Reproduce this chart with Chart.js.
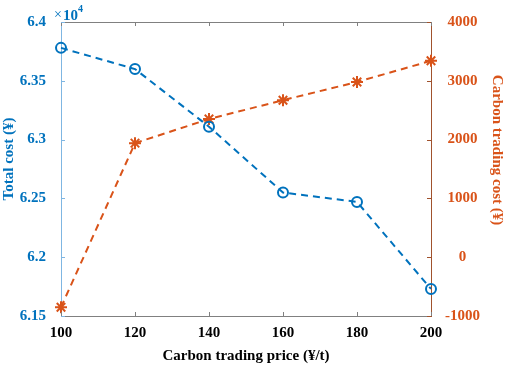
<!DOCTYPE html>
<html>
<head>
<meta charset="utf-8">
<script src="https://cdn.jsdelivr.net/npm/chart.js@4"></script>
<style>
  html, body { margin: 0; padding: 0; background: #fff; }
  #wrap { width: 505px; height: 371px; }
</style>
</head>
<body>
<div id="wrap"><canvas id="grafico"></canvas></div>
<script>
const precos = [100, 120, 140, 160, 180, 200];
const custoTotal = [6.378, 6.360, 6.311, 6.255, 6.247, 6.173]; // x 10^4
const custoCarbono = [-850, 1940, 2350, 2670, 2980, 3340];

const AZUL = "#0072BD";
const LARANJA = "#D95319";
const FONTE = "'Liberation Serif', 'Times New Roman', serif";

function pontos(valores) {
  return precos.map((p, i) => ({ x: p, y: valores[i] }));
}

const decoracao = {
  id: "decoracao",
  afterDraw(chart) {
    const ctx = chart.ctx;
    const a = chart.chartArea;
    const sx = chart.scales.x, sl = chart.scales.y, sr = chart.scales.y2;
    ctx.save();
    ctx.lineWidth = 1;

    // linha de cima
    ctx.strokeStyle = "#808080";
    ctx.beginPath();
    ctx.moveTo(a.left, a.top + 0.5);
    ctx.lineTo(a.right, a.top + 0.5);
    ctx.stroke();

    // ticks para dentro
    sx.ticks.forEach(t => {
      const px = Math.round(sx.getPixelForValue(t.value)) + 0.5;
      ctx.beginPath();
      ctx.moveTo(px, a.bottom); ctx.lineTo(px, a.bottom - 4);
      ctx.moveTo(px, a.top); ctx.lineTo(px, a.top + 4);
      ctx.stroke();
    });
    ctx.strokeStyle = "#7fb6e2";
    sl.ticks.forEach(t => {
      const py = Math.round(sl.getPixelForValue(t.value)) + 0.5;
      ctx.beginPath();
      ctx.moveTo(a.left, py); ctx.lineTo(a.left + 4, py);
      ctx.stroke();
    });
    ctx.strokeStyle = "#a0522d";
    sr.ticks.forEach(t => {
      const py = Math.round(sr.getPixelForValue(t.value)) + 0.5;
      ctx.beginPath();
      ctx.moveTo(a.right, py); ctx.lineTo(a.right - 4, py);
      ctx.stroke();
    });

    // titulos
    ctx.font = "bold 15px " + FONTE;
    ctx.textAlign = "center";
    ctx.textBaseline = "middle";
    ctx.fillStyle = "#000";
    ctx.fillText("Carbon trading price (¥/t)", (a.left + a.right) / 2, 356);

    ctx.save();
    ctx.translate(9, 159);
    ctx.rotate(-Math.PI / 2);
    ctx.fillStyle = AZUL;
    ctx.fillText("Total cost (¥)", 0, 0);
    ctx.restore();

    ctx.save();
    ctx.translate(497, 150);
    ctx.rotate(Math.PI / 2);
    ctx.fillStyle = LARANJA;
    ctx.fillText("Carbon trading cost (¥)", 0, 0);
    ctx.restore();

    // x10^4
    ctx.fillStyle = AZUL;
    ctx.textAlign = "left";
    ctx.font = "14px " + FONTE;
    ctx.fillText("×", 54, 15);
    ctx.font = "bold 15px " + FONTE;
    ctx.fillText("10", 63, 16);
    ctx.font = "bold 10px " + FONTE;
    ctx.fillText("4", 78, 9);
    ctx.restore();
  }
};

function criarGrafico() {
  const ctx = document.getElementById("grafico").getContext("2d");
  new Chart(ctx, {
    type: "line",
    data: {
      datasets: [
        {
          label: "Total cost",
          data: pontos(custoTotal),
          yAxisID: "y",
          borderColor: AZUL,
          borderWidth: 2,
          borderDash: [7, 5],
          pointStyle: "circle",
          pointRadius: 5,
          pointBorderWidth: 2,
          pointBorderColor: AZUL,
          pointBackgroundColor: "rgba(0,0,0,0)",
          clip: false,
        },
        {
          label: "Carbon trading cost",
          data: pontos(custoCarbono),
          yAxisID: "y2",
          borderColor: LARANJA,
          borderWidth: 2,
          borderDash: [7, 5],
          pointStyle: "star",
          pointRadius: 6,
          pointBorderWidth: 2,
          pointBorderColor: LARANJA,
          pointBackgroundColor: LARANJA,
          clip: false,
        },
      ],
    },
    options: {
      responsive: true,
      maintainAspectRatio: false,
      animation: false,
      layout: { padding: { top: 22, left: 0, right: 0, bottom: 0 } },
      plugins: { legend: { display: false }, tooltip: { enabled: false } },
      scales: {
        x: {
          type: "linear",
          min: 100,
          max: 200,
          afterFit: s => { s.height = 55; },
          ticks: {
            stepSize: 20,
            padding: 0,
            color: "#000",
            font: { family: FONTE, size: 15, weight: "bold" },
          },
          grid: { display: false },
          border: { display: true, color: "#808080", width: 1 },
        },
        y: {
          position: "left",
          min: 6.15,
          max: 6.4,
          afterFit: s => { s.width = 61; },
          ticks: {
            stepSize: 0.05,
            padding: 7,
            color: AZUL,
            font: { family: FONTE, size: 15, weight: "bold" },
            callback: v => String(+v.toFixed(2)),
          },
          grid: { display: false },
          border: { display: true, color: "#7fb6e2", width: 1 },
        },
        y2: {
          position: "right",
          min: -1000,
          max: 4000,
          afterFit: s => { s.width = 74; },
          ticks: {
            stepSize: 1000,
            padding: 6,
            crossAlign: "center",
            color: LARANJA,
            font: { family: FONTE, size: 15, weight: "bold" },
            callback: v => String(v),
          },
          grid: { display: false },
          border: { display: true, color: "#a0522d", width: 1 },
        },
      },
    },
    plugins: [decoracao],
  });
}

document.addEventListener("DOMContentLoaded", criarGrafico);
</script>
</body>
</html>
